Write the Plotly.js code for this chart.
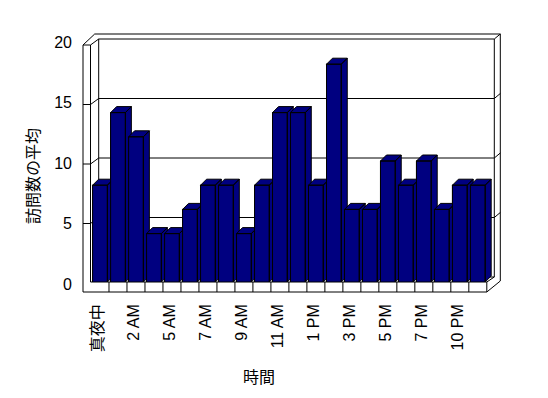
<!DOCTYPE html>
<html>
<head>
<meta charset="utf-8">
<script src="https://cdn.plot.ly/plotly-3.0.1.min.js"></script>
<style>html,body{margin:0;padding:0;background:#fff;}#chart{width:548px;height:398px;}</style>
</head>
<body>
<div id="chart"></div>
<script>
// ---- data ----
const hours = ['真夜中','1 AM','2 AM','3 AM','5 AM','6 AM','7 AM','8 AM','9 AM','10 AM','11 AM','正午',
               '1 PM','2 PM','3 PM','4 PM','5 PM','6 PM','7 PM','8 PM','10 PM','11 PM'];
const visits = [8,14,12,4,4,6,8,8,4,8,14,14,8,18,6,6,10,8,10,6,8,8];
const yTicks = [0,5,10,15,20];
const xTitle = '時間';
const yTitle = '訪問数の平均';

// ---- layout geometry ----
const W = 548, H = 398;
const L = 91, T = 40, B = 282;
const cellPx = 18;
const xMin = -0.5, xMax = 21.9;
const plotW = (xMax - xMin) * cellPx;
const R = W - L - plotW;
const plotH = B - T;
const FONT = "'Liberation Sans', 'Noto Sans CJK JP', sans-serif";
const NAVY = '#000080';

const px = p => (p - L) / plotW;
const py = p => (B - p) / plotH;

const barW = 0.82;
const dx = 6 / cellPx;          // depth offset in category units
const dy = 6 / (plotH / 20);    // depth offset in value units

const idx = hours.map((_, i) => i);

const traces = [{
  type: 'bar', x: idx, y: visits, width: barW,
  marker: {color: NAVY, line: {color: '#000', width: 1}},
  hoverinfo: 'skip', showlegend: false
}];

visits.forEach((v, i) => {
  const xl = i - barW / 2, xr = i + barW / 2;
  const xs = [xl, xl, xr, xr, xl, null,
              xl, xl + dx, xr + dx, xr, xl, null,
              xr, xr, xr + dx, xr + dx, xr];
  const ys = [0, v, v, 0, 0, null,
              v, v + dy, v + dy, v, v, null,
              0, v, v + dy, dy, 0];
  traces.push({
    type: 'scatter', mode: 'lines', x: xs, y: ys,
    fill: 'toself', fillcolor: NAVY,
    line: {color: '#000', width: 1},
    hoverinfo: 'skip', showlegend: false
  });
});

// ---- walls (frame shapes) ----
const shapes = [];
function seg(x0, y0, x1, y1) {
  shapes.push({type: 'line', xref: 'paper', yref: 'paper', layer: 'below',
    x0: px(x0), y0: py(y0), x1: px(x1), y1: py(y1),
    line: {color: '#000', width: 1}});
}
const fy = v => 283 - 11.9 * v;   // front-left wall
const by = v => 277 - 11.9 * v;   // back wall
const xo = 83, xi = 90.5, xb = 98.7, xr_in = 494.5, xr_out = 500.5, xf = 487;

// left wall
seg(xo, fy(20), xo, 292);
seg(xi, fy(20), xi, 282);
seg(xo, fy(20), xi, fy(20));
seg(xo, fy(20), 94.7, 34);
seg(xi, fy(20), xb, by(20));
seg(xb, by(20), xb, by(0));
// top
seg(94.7, 34, xr_out, 34);
seg(xb, by(20), xr_in, by(20));
// right
seg(xr_in, by(20), xr_in, by(0));
seg(xr_in, by(20), xr_out, 34);
seg(xr_out, 34, xr_out, 281);
// floor
seg(xo, 292, xf, 292);
seg(xi, 282, xf, 282);
seg(xf, 282, xf, 292);
seg(xf, 292, xr_out, 281);
seg(xf, 282, xr_in, by(0));
seg(xb, by(0), xr_in, by(0));
for (let k = 1; k < hours.length; k++) {
  const x = L + k * cellPx;
  seg(x, 282, x, 292);
}
// gridlines
yTicks.filter(v => v > 0 && v < 20).forEach(v => {
  seg(xo, fy(v), xi, fy(v));
  seg(xi, fy(v), xb, by(v));
  seg(xb, by(v), xr_in, by(v));
  seg(xr_in, by(v), xr_out, by(v) - 5);
});

const evenIdx = idx.filter(i => i % 2 === 0);

const layout = {
  width: W, height: H,
  margin: {l: L, r: R, t: T, b: H - B, pad: 0},
  paper_bgcolor: '#fff', plot_bgcolor: 'rgba(0,0,0,0)',
  font: {family: FONT, size: 16, color: '#000'},
  showlegend: false,
  bargap: 0,
  xaxis: {
    type: 'linear', range: [xMin, xMax],
    tickmode: 'array', tickvals: evenIdx, ticktext: evenIdx.map(i => hours[i]),
    tickangle: -90, ticks: '', showgrid: false, zeroline: false, showline: false,
    ticklabelstandoff: 18, ticklabelshift: -2,
    tickfont: {family: FONT, size: 16, color: '#000'},
    automargin: false
  },
  yaxis: {
    range: [0, 20], tickmode: 'array', tickvals: yTicks,
    ticks: '', showgrid: false, zeroline: false, showline: false,
    ticklabelstandoff: 18, ticklabelshift: 2,
    tickfont: {family: FONT, size: 16, color: '#000'},
    automargin: false
  },
  annotations: [
    {text: xTitle, xref: 'paper', yref: 'paper', x: px(259), y: py(377),
     xanchor: 'center', yanchor: 'middle', showarrow: false,
     font: {family: FONT, size: 16, color: '#000'}},
    {text: yTitle, xref: 'paper', yref: 'paper', x: px(33), y: py(176),
     xanchor: 'center', yanchor: 'middle', showarrow: false, textangle: -90,
     font: {family: FONT, size: 16, color: '#000'}}
  ],
  shapes: shapes
};

Plotly.newPlot('chart', traces, layout, {staticPlot: true, displayModeBar: false});
</script>
</body>
</html>
